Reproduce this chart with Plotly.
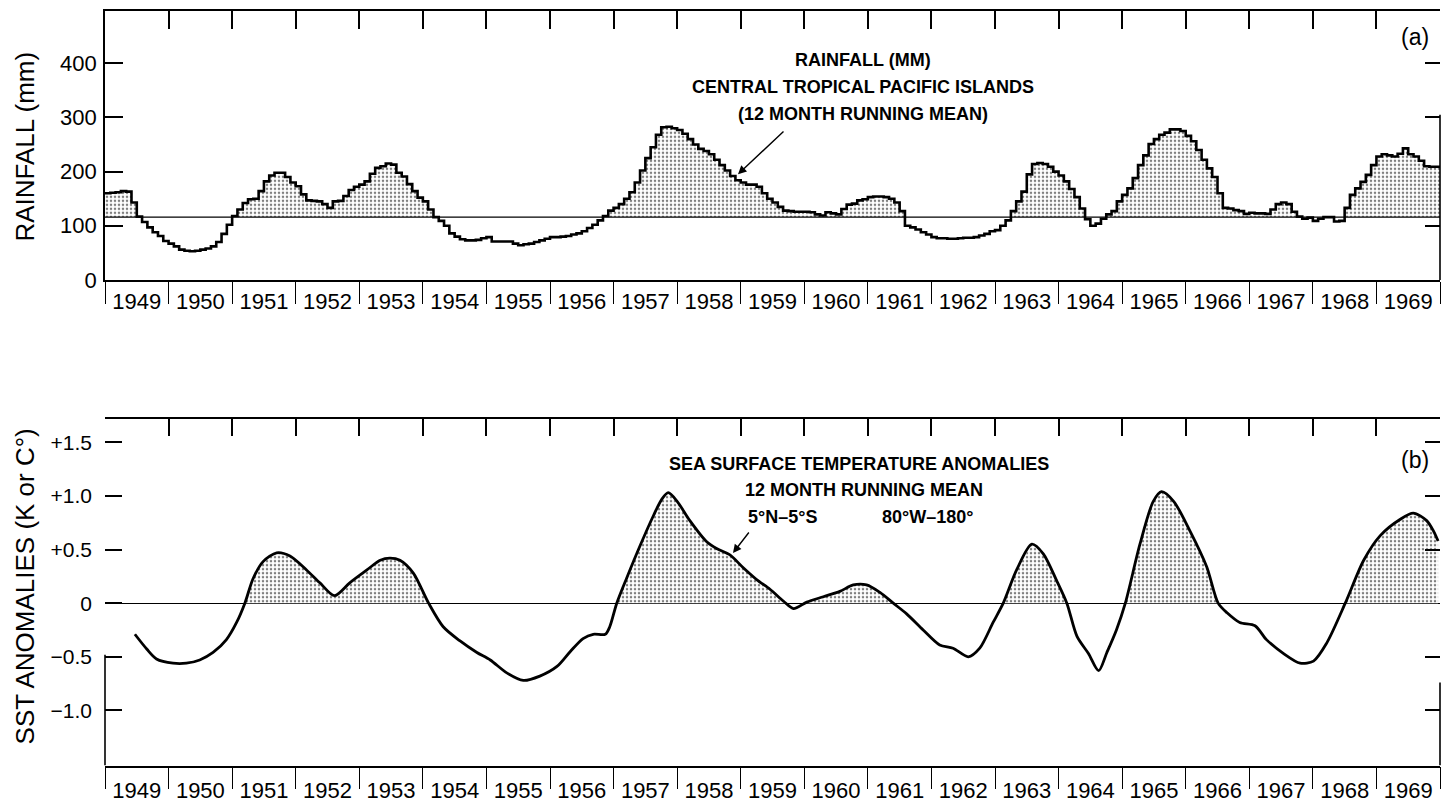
import plotly.graph_objects as go

W, H = 1451, 810

# ---------------- data ----------------
years = list(range(1949, 1970))
year_labels = [str(y) for y in years]

# Rainfall, central tropical Pacific islands, 12-month running mean (mm), monthly steps 1949-1969
rain_mm = [
    160, 161, 162, 164, 163, 143, 117, 107, 97, 88, 81, 72,      # 1949
    67, 62, 56, 54, 53, 54, 56, 58, 62, 70, 85, 102,             # 1950
    118, 130, 142, 149, 150, 164, 182, 193, 198, 198, 190, 180,  # 1951
    173, 158, 147, 146, 145, 140, 133, 145, 146, 155, 166, 172,  # 1952
    176, 182, 196, 207, 210, 215, 213, 198, 191, 177, 164, 152,  # 1953
    145, 130, 116, 109, 100, 86, 80, 75, 73, 73, 74, 77,         # 1954
    79, 71, 71, 71, 71, 67, 64, 66, 67, 70, 73, 76,              # 1955
    79, 79, 80, 81, 84, 86, 90, 96, 102, 110, 118, 128,          # 1956
    133, 140, 150, 162, 180, 202, 225, 245, 268, 282, 283, 280,  # 1957
    277, 270, 260, 250, 242, 238, 232, 222, 212, 202, 192, 184,  # 1958
    180, 176, 176, 172, 160, 150, 143, 135, 128, 127, 126, 126,  # 1959
    126, 125, 121, 119, 125, 123, 121, 131, 139, 141, 147, 149,  # 1960
    153, 154, 154, 153, 150, 143, 127, 100, 97, 93, 88, 84,      # 1961
    79, 77, 77, 76, 76, 77, 78, 78, 79, 82, 85, 90,              # 1962
    92, 100, 110, 127, 145, 163, 195, 214, 216, 214, 209, 200,   # 1963
    193, 182, 168, 153, 132, 112, 100, 104, 113, 121, 127, 145,  # 1964
    157, 169, 188, 212, 230, 251, 260, 268, 272, 278, 278, 275,  # 1965
    266, 256, 240, 222, 206, 190, 160, 133, 132, 129, 127, 122,  # 1966
    124, 123, 123, 122, 130, 140, 143, 140, 126, 117, 113, 115,  # 1967
    109, 113, 116, 116, 108, 109, 133, 157, 169, 181, 194, 212,  # 1968
    228, 232, 230, 228, 233, 243, 232, 228, 220, 210, 209, 209,  # 1969
]
rain_baseline = 116

rain_ticks = [0, 100, 200, 300, 400]

# SST anomalies 5N-5S, 80W-180, 12-month running mean
sst_time = [
    1949.47, 1949.66, 1949.81, 1950.07, 1950.28, 1950.49, 1950.70, 1950.91,
    1951.07, 1951.20, 1951.33, 1951.49, 1951.70, 1951.91, 1952.17, 1952.38,
    1952.61, 1952.85, 1953.12, 1953.33, 1953.48, 1953.64, 1953.85, 1954.09,
    1954.32, 1954.58, 1954.85, 1955.06, 1955.32, 1955.58, 1955.84, 1956.11,
    1956.32, 1956.52, 1956.68, 1956.87, 1956.94, 1957.05, 1957.21, 1957.42,
    1957.63, 1957.76, 1957.86, 1958.00, 1958.20, 1958.47, 1958.62, 1958.83,
    1959.04, 1959.25, 1959.46, 1959.67, 1959.83, 1960.04, 1960.30, 1960.56,
    1960.77, 1960.98, 1961.19, 1961.40, 1961.61, 1961.87, 1962.13, 1962.34,
    1962.58, 1962.76, 1962.97, 1963.13, 1963.34, 1963.58, 1963.76, 1963.97,
    1964.13, 1964.29, 1964.47, 1964.63, 1964.76, 1964.91, 1965.05, 1965.28,
    1965.49, 1965.62, 1965.81, 1966.07, 1966.33, 1966.51, 1966.65, 1966.85,
    1967.09, 1967.27, 1967.54, 1967.80, 1968.01, 1968.22, 1968.51, 1968.80,
    1969.06, 1969.37, 1969.58, 1969.79, 1969.90, 1969.97,
]
sst_anom = [
    -0.29, -0.43, -0.52, -0.56, -0.56, -0.53, -0.46, -0.34,
    -0.18, 0.00, 0.23, 0.39, 0.47, 0.44, 0.31, 0.19,
    0.07, 0.19, 0.31, 0.40, 0.42, 0.40, 0.28, 0.00,
    -0.22, -0.35, -0.46, -0.53, -0.65, -0.72, -0.68, -0.59,
    -0.45, -0.33, -0.29, -0.29, -0.22, 0.00, 0.24, 0.54,
    0.82, 0.97, 1.03, 0.95, 0.77, 0.57, 0.51, 0.45,
    0.33, 0.22, 0.13, 0.02, -0.05, 0.01, 0.06, 0.11,
    0.17, 0.17, 0.10, 0.00, -0.10, -0.25, -0.39, -0.42,
    -0.50, -0.42, -0.18, 0.00, 0.31, 0.55, 0.46, 0.21,
    0.00, -0.31, -0.47, -0.63, -0.46, -0.25, 0.00, 0.55,
    0.95, 1.04, 0.95, 0.67, 0.34, 0.00, -0.09, -0.18,
    -0.21, -0.34, -0.47, -0.56, -0.54, -0.37, 0.00, 0.40,
    0.63, 0.78, 0.84, 0.77, 0.67, 0.58,
]
sst_tick_vals = [-1.0, -0.5, 0, 0.5, 1.0, 1.5]
sst_tick_text = ["\u22121.0", "\u22120.5", "0", "+0.5", "+1.0", "+1.5"]

# ---------------- layout geometry (pixels) ----------------
XL, XR = 105, 1440
TOP_T, TOP_B = 11, 284.5
BOT_T, BOT_B = 426, 778
RAIN_RANGE = [0, 497]
SST_RANGE = [-1.514, 1.716]


def px(x):
    return x / W


def py(y):
    return 1 - y / H


# ---------------- derived series ----------------
t_rain = [1949 + m / 12 for m in range(len(rain_mm) + 1)]
r_vals = rain_mm + [rain_mm[-1]]
r_clip = [max(v, rain_baseline) for v in r_vals]
r_base = [rain_baseline] * len(t_rain)

ft, fv = [], []
for i in range(len(sst_time)):
    if i > 0:
        a, b = sst_anom[i - 1], sst_anom[i]
        if a * b < 0:
            t0 = sst_time[i - 1] + (sst_time[i] - sst_time[i - 1]) * a / (a - b)
            ft.append(t0)
            fv.append(0.0)
    ft.append(sst_time[i])
    fv.append(max(sst_anom[i], 0.0))

pattern = dict(shape=".", size=4, solidity=0.32, fgcolor="#000000",
               bgcolor="white", fillmode="overlay")

fig = go.Figure()

# rainfall fill
fig.add_trace(go.Scatter(x=t_rain, y=r_base, mode="lines", line=dict(width=0, shape="hv"),
                         xaxis="x", yaxis="y", hoverinfo="skip"))
fig.add_trace(go.Scatter(x=t_rain, y=r_clip, mode="lines", line=dict(width=0, shape="hv"),
                         fill="tonexty", fillcolor="white", fillpattern=pattern,
                         xaxis="x", yaxis="y", hoverinfo="skip"))
# rainfall baseline
fig.add_trace(go.Scatter(x=[1949, 1970], y=[rain_baseline, rain_baseline], mode="lines",
                         line=dict(color="black", width=1.3), xaxis="x", yaxis="y"))
# rainfall step line
fig.add_trace(go.Scatter(x=t_rain, y=r_vals, mode="lines",
                         line=dict(color="black", width=2.6, shape="hv"),
                         xaxis="x", yaxis="y"))

# SST fill
fig.add_trace(go.Scatter(x=ft, y=[0.0] * len(ft), mode="lines", line=dict(width=0),
                         xaxis="x3", yaxis="y3", hoverinfo="skip"))
fig.add_trace(go.Scatter(x=ft, y=fv, mode="lines", line=dict(width=0),
                         fill="tonexty", fillcolor="white", fillpattern=pattern,
                         xaxis="x3", yaxis="y3", hoverinfo="skip"))
# SST line
fig.add_trace(go.Scatter(x=sst_time, y=sst_anom, mode="lines",
                         line=dict(color="black", width=2.8, shape="spline", smoothing=0.8),
                         xaxis="x3", yaxis="y3"))

# invisible anchors so the overlaid frame axes (top ticks / right ticks) are drawn
fig.add_trace(go.Scatter(x=[1960], y=[rain_baseline], mode="markers",
                         marker=dict(opacity=0), xaxis="x2", yaxis="y2", hoverinfo="skip"))
fig.add_trace(go.Scatter(x=[1960], y=[0], mode="markers",
                         marker=dict(opacity=0), xaxis="x4", yaxis="y4", hoverinfo="skip"))

FONT = "Liberation Sans, Arial, Helvetica, sans-serif"
BOLDFONT = "Liberation Sans, Arial, sans-serif"
tickfont = dict(family=FONT, size=22, color="black")
mid_years = [y + 0.5 for y in years]
bounds = list(range(1949, 1971))

common_x = dict(range=[1949, 1970], showgrid=False, zeroline=False, fixedrange=True)

fig.update_layout(
    width=W, height=H, margin=dict(l=0, r=0, t=0, b=0),
    paper_bgcolor="white", plot_bgcolor="white", showlegend=False,
    xaxis=dict(**common_x, domain=[px(XL), px(XR)], anchor="y",
               showline=True, linecolor="black", linewidth=1.6,
               tickmode="array", tickvals=mid_years, ticktext=year_labels,
               ticks="", tickfont=tickfont, ticklabelstandoff=1,
               minor=dict(tickmode="array", tickvals=bounds, ticks="outside",
                          ticklen=22, tickwidth=1.4, tickcolor="black")),
    xaxis2=dict(**common_x, overlaying="x", side="top", anchor="y",
                showline=True, linecolor="black", linewidth=1.6,
                tickmode="array", tickvals=bounds[1:-1], ticks="inside",
                ticklen=18, tickwidth=1.6, tickcolor="black", showticklabels=False),
    yaxis=dict(domain=[py(TOP_B), py(TOP_T)], range=RAIN_RANGE, anchor="x",
               showline=True, linecolor="black", linewidth=1.6,
               showgrid=False, zeroline=False, fixedrange=True,
               tickmode="array", tickvals=rain_ticks, ticks="inside", ticklen=18,
               tickwidth=1.6, tickcolor="black", tickfont=tickfont, ticklabelstandoff=2),
    yaxis2=dict(overlaying="y", side="right", anchor="x", range=RAIN_RANGE,
                showline=False, showgrid=False, zeroline=False, fixedrange=True,
                tickmode="array", tickvals=[100, 300, 400], ticks="inside", ticklen=15,
                tickwidth=1.6, tickcolor="black", showticklabels=False),
    xaxis3=dict(**common_x, domain=[px(XL), px(XR)], anchor="y3",
                showline=True, linecolor="black", linewidth=1.6,
                tickmode="array", tickvals=mid_years, ticktext=year_labels,
                ticks="", tickfont=tickfont, ticklabelstandoff=4,
                minor=dict(tickmode="array", tickvals=bounds, ticks="outside",
                           ticklen=22, tickwidth=1.4, tickcolor="black")),
    xaxis4=dict(**common_x, overlaying="x3", side="top", anchor="y3",
                showline=True, linecolor="black", linewidth=1.6,
                tickmode="array", tickvals=bounds[1:-1], ticks="inside",
                ticklen=17, tickwidth=1.6, tickcolor="black", showticklabels=False),
    yaxis3=dict(domain=[py(BOT_B), py(BOT_T)], range=SST_RANGE, anchor="x3",
                showline=False, showgrid=False, fixedrange=True,
                zeroline=True, zerolinecolor="black", zerolinewidth=1.3,
                tickmode="array", tickvals=sst_tick_vals, ticktext=sst_tick_text,
                ticks="inside", ticklen=17, tickwidth=1.6, tickcolor="black",
                tickfont=dict(family=FONT, size=21, color="black"), ticklabelstandoff=12),
    yaxis4=dict(overlaying="y3", side="right", anchor="x3", range=SST_RANGE,
                showline=False, showgrid=False, zeroline=False, fixedrange=True,
                tickmode="array", tickvals=[-1.0, -0.5, 0.5, 1.0, 1.5], ticks="inside",
                ticklen=15, tickwidth=1.6, tickcolor="black", showticklabels=False),
)

# partial frame lines as in the original scan
fig.add_shape(type="line", xref="paper", yref="y", x0=px(XR), x1=px(XR), y0=0, y1=305,
              line=dict(color="black", width=1.6))
fig.add_shape(type="line", xref="paper", yref="y3", x0=px(XL), x1=px(XL),
              y0=SST_RANGE[0], y1=-0.48, line=dict(color="black", width=1.6))
fig.add_shape(type="line", xref="paper", yref="y3", x0=px(XR), x1=px(XR),
              y0=SST_RANGE[0], y1=-0.74, line=dict(color="black", width=1.6))

ann_font = dict(family=BOLDFONT, size=18, color="black")
annotations = [
    dict(x=px(25), y=py(149), text="RAINFALL (mm)", textangle=-90,
         font=dict(family=FONT, size=26, color="black")),
    dict(x=px(25), y=py(596), text="SST ANOMALIES (K or C\u00b0)", textangle=-90,
         font=dict(family=FONT, size=26, color="black")),
    dict(x=px(1415), y=py(38), text="(a)", font=dict(family=FONT, size=23, color="black")),
    dict(x=px(1415), y=py(468), text="(b)", font=dict(family=FONT, size=23, color="black")),
    dict(x=px(863), y=py(61), text="<b>RAINFALL (MM)</b>", font=ann_font),
    dict(x=px(863), y=py(88), text="<b>CENTRAL TROPICAL PACIFIC ISLANDS</b>", font=ann_font),
    dict(x=px(863), y=py(116), text="<b>(12 MONTH RUNNING MEAN)</b>", font=ann_font),
    dict(x=px(859), y=py(472), text="<b>SEA SURFACE TEMPERATURE ANOMALIES</b>", font=ann_font),
    dict(x=px(864), y=py(498), text="<b>12 MONTH RUNNING MEAN</b>", font=ann_font),
    dict(x=px(782), y=py(525), text="<b>5\u00b0N\u20135\u00b0S</b>", font=ann_font),
    dict(x=px(927), y=py(525), text="<b>80\u00b0W\u2013180\u00b0</b>", font=ann_font),
    # arrows
    dict(x=px(738), y=py(177), ax=47, ay=-44, text="", showarrow=True,
         arrowhead=2, arrowsize=1.2, arrowwidth=1.4, arrowcolor="black"),
    dict(x=px(733), y=py(562), ax=17, ay=-22, text="", showarrow=True,
         arrowhead=2, arrowsize=1.2, arrowwidth=1.4, arrowcolor="black"),
]
for a in annotations:
    a.setdefault("xref", "paper")
    a.setdefault("yref", "paper")
    a.setdefault("showarrow", False)
    a.setdefault("xanchor", "center")
    a.setdefault("yanchor", "middle")
fig.update_layout(annotations=annotations)

fig.write_html("out.html")
